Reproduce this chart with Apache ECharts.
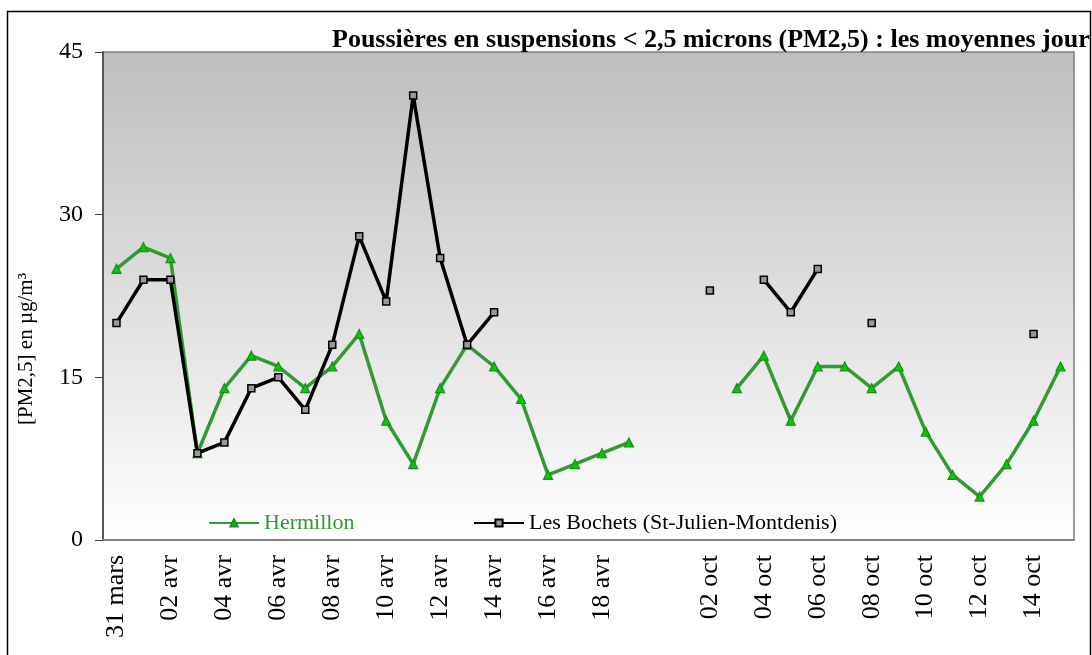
<!DOCTYPE html>
<html><head><meta charset="utf-8">
<script src="https://cdn.jsdelivr.net/npm/echarts@6/dist/echarts.min.js"></script>
<style>html,body{margin:0;padding:0;background:#fff}#c{width:1092px;height:655px}</style>
</head><body><div id="c"></div>
<script>
const categories = ['31 mars','01 avr','02 avr','03 avr','04 avr','05 avr','06 avr','07 avr','08 avr','09 avr','10 avr','11 avr','12 avr','13 avr','14 avr','15 avr','16 avr','17 avr','18 avr','19 avr','',
 '01 oct','02 oct','03 oct','04 oct','05 oct','06 oct','07 oct','08 oct','09 oct','10 oct','11 oct','12 oct','13 oct','14 oct','15 oct'];
const hermillon = [25,27,26,8,14,17,16,14,16,19,11,7,14,18,16,13,6,7,8,9,null,
 null,null,14,17,11,16,16,14,16,10,6,4,7,11,16];
const bochets = [20,24,24,8,9,14,15,12,18,28,22,41,26,18,21,null,null,null,null,null,null,
 null,23,null,24,21,25,null,20,null,null,null,null,null,19,null];
const yTicks = [0,15,30,45];
const titleText = 'Poussières en suspensions < 2,5 microns (PM2,5) : les moyennes jour';
const yName = '[PM2,5] en µg/m³';

const serif = '"Liberation Serif","DejaVu Serif",serif';
const chart = echarts.init(document.getElementById('c'));
chart.setOption({
  animation:false,
  backgroundColor:'#fff',
  title:{text:titleText,left:327,top:22,textStyle:{fontFamily:serif,fontWeight:'bold',fontSize:26,color:'#000'}},
  grid:{left:103,top:52,right:18,bottom:115,show:true,borderColor:'#808080',borderWidth:1.5,
    backgroundColor:new echarts.graphic.LinearGradient(0,0,0,1,[{offset:0,color:'#bebebe'},{offset:1,color:'#ffffff'}])},
  legend:[
    {left:203,top:507,itemWidth:50,itemHeight:9,data:[{name:'Hermillon',textStyle:{color:'#339933'}}],textStyle:{fontFamily:serif,fontSize:22}},
    {left:468,top:507,itemWidth:50,itemHeight:9,data:[{name:'Les Bochets (St-Julien-Montdenis)',textStyle:{color:'#000'}}],textStyle:{fontFamily:serif,fontSize:22}}
  ],
  xAxis:{type:'category',data:categories,boundaryGap:true,
    axisLine:{lineStyle:{color:'#808080',width:2}},axisTick:{show:false},
    axisLabel:{interval:1,rotate:90,fontFamily:serif,fontSize:26,color:'#000',margin:15}},
  yAxis:{type:'value',min:0,max:45,interval:15,
    axisLine:{show:true,lineStyle:{color:'#404040',width:1.5}},
    axisTick:{show:true,length:8,lineStyle:{color:'#404040'}},
    splitLine:{show:false},
    axisLabel:{fontFamily:serif,fontSize:24,color:'#000',margin:20,
      formatter:v=>yTicks.includes(v)?String(v):''}},
  series:[
    {name:'Hermillon',type:'line',data:hermillon,connectNulls:false,showAllSymbol:true,
      symbol:'triangle',symbolSize:9,lineStyle:{color:'#339933',width:3.5},
      itemStyle:{color:'#00cc00',borderColor:'#1f8a1f',borderWidth:1.2},z:2},
    {name:'Les Bochets (St-Julien-Montdenis)',type:'line',data:bochets,connectNulls:false,showAllSymbol:true,
      symbol:'rect',symbolSize:7,lineStyle:{color:'#000',width:3.5},
      itemStyle:{color:'#999999',borderColor:'#000',borderWidth:1.5},z:3}
  ],
  graphic:[
    {type:'rect',shape:{x:7.5,y:11.5,width:1083,height:700},style:{fill:'none',stroke:'#000',lineWidth:1.5},silent:true,z:-1},
    {type:'text',x:26,y:349,rotation:Math.PI/2,style:{text:yName,font:'21px '+serif,fill:'#000',textAlign:'center',textVerticalAlign:'middle'},silent:true}
  ]
});
</script></body></html>
